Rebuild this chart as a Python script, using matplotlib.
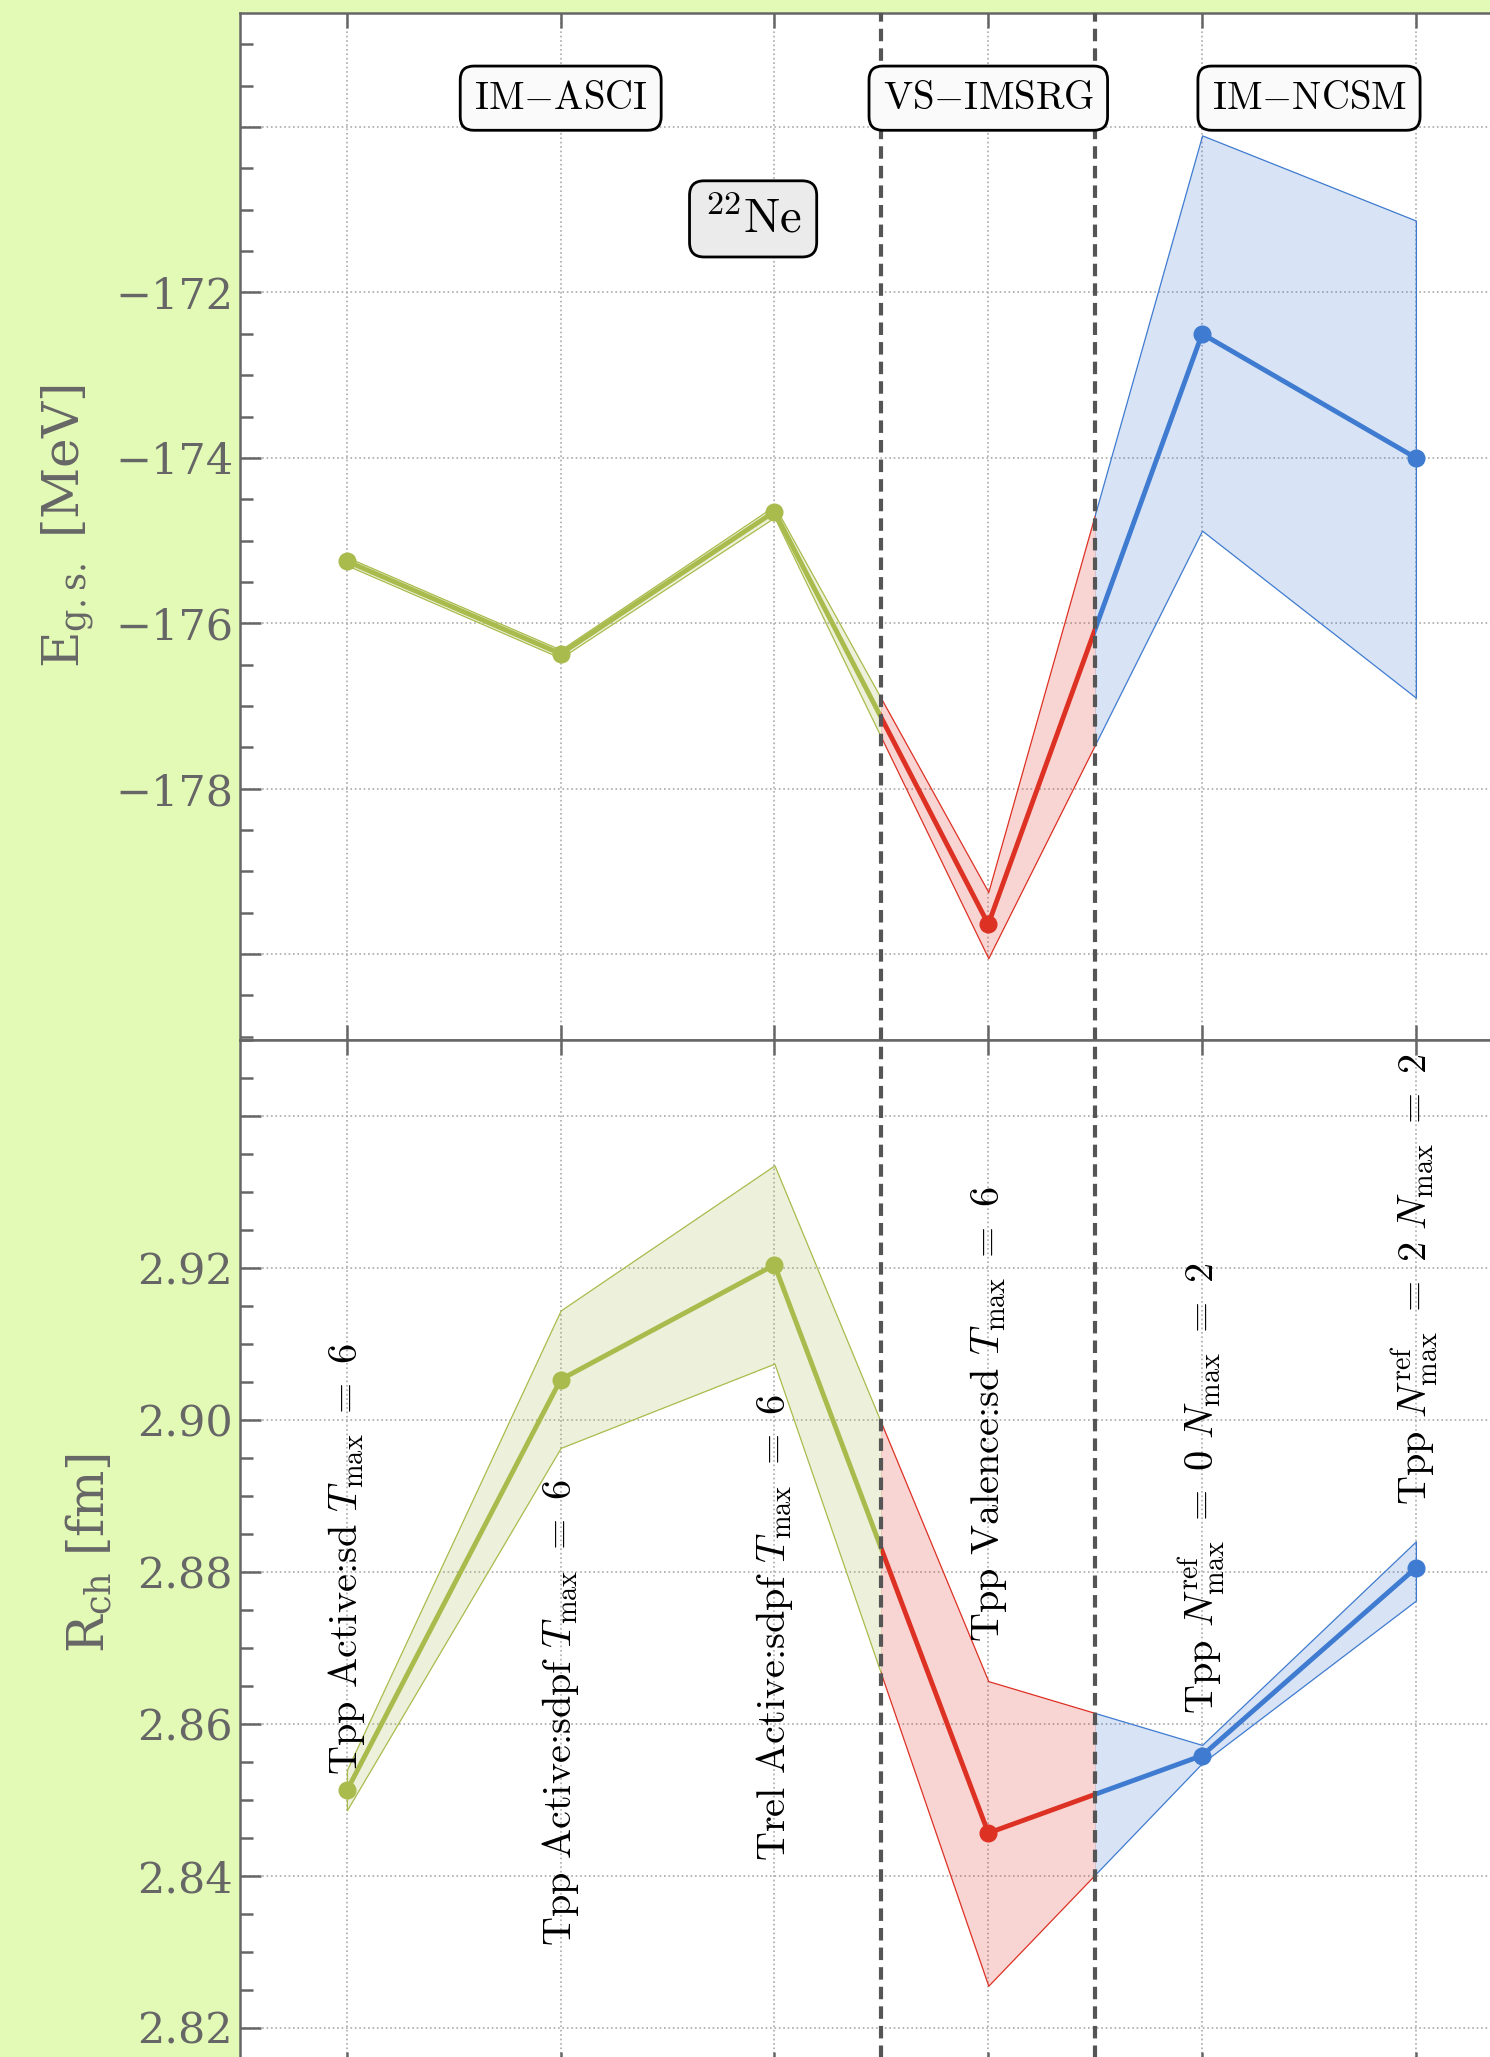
import matplotlib
matplotlib.use("Agg")
import matplotlib.pyplot as plt
from matplotlib.patches import Rectangle
from matplotlib.colors import to_rgba
import numpy as np

plt.rcParams['font.family'] = 'DejaVu Serif'
plt.rcParams['mathtext.fontset'] = 'cm'

# six calculations along the x axis
x_labels = [
    r"Tpp Active:sd $T_{\mathrm{max}}\ =\ 6$",
    r"Tpp Active:sdpf $T_{\mathrm{max}}\ =\ 6$",
    r"Trel Active:sdpf $T_{\mathrm{max}}\ =\ 6$",
    r"Tpp Valence:sd $T_{\mathrm{max}}\ =\ 6$",
    r"Tpp $N^{\mathrm{ref}}_{\mathrm{max}}\ =\ 0\ N_{\mathrm{max}}\ =\ 2$",
    r"Tpp $N^{\mathrm{ref}}_{\mathrm{max}}\ =\ 2\ N_{\mathrm{max}}\ =\ 2$",
]

# ground state energy [MeV]
E_center = [-175.25, -176.37, -174.65, -179.64, -172.50, -174.00]
E_lower = [-175.30, -176.42, -174.72, -180.05, -174.88, -176.90]
E_upper = [-175.20, -176.32, -174.58, -179.25, -170.10, -171.13]

# charge radius [fm]
R_center = [2.8512, 2.9053, 2.9204, 2.8456, 2.8558, 2.8805]
R_lower = [2.8486, 2.8963, 2.9074, 2.8255, 2.8548, 2.8762]
R_upper = [2.8539, 2.9144, 2.9335, 2.8656, 2.8572, 2.8840]

# methods: name, colour, x-range it owns, its points
method_names = [r"$\mathrm{IM{-}ASCI}$", r"$\mathrm{VS{-}IMSRG}$", r"$\mathrm{IM{-}NCSM}$"]
method_colors = ["#A9BB4C", "#DD3124", "#3F7BD0"]
method_ranges = [(-0.5, 2.5), (2.5, 3.5), (3.5, 5.5)]
method_points = [[0, 1, 2], [3], [4, 5]]
method_label_x = [1.0, 3.0, 4.5]

# where the rotated labels start / end on the radius panel
ann_y = [2.8533, 2.8922, 2.9034, 2.8708, 2.8613, 2.8888]
ann_ha = ['left', 'right', 'right', 'left', 'left', 'left']

x = np.arange(len(x_labels))

fig = plt.figure(figsize=(14.9, 20.57), dpi=100)
fig.patch.set_facecolor("#E3FAB6")

left, width, h = 240 / 1490, 1282.8 / 1490, 1027 / 2057
ax_e = fig.add_axes([left, 1 - 1040 / 2057, width, h])
ax_r = fig.add_axes([left, 1 - 2067 / 2057, width, h])

gray = "#666666"


def draw_series(ax, center, lower, upper):
    for col, (lo, hi), pts in zip(method_colors, method_ranges, method_points):
        clip = Rectangle((lo, -1e4), hi - lo, 2e4, transform=ax.transData)
        fb = ax.fill_between(x, lower, upper, facecolor=to_rgba(col, 0.2),
                             edgecolor=col, linewidth=0.9, zorder=2)
        fb.set_clip_path(clip)
        ln, = ax.plot(x, center, color=col, lw=3.5, zorder=3)
        ln.set_clip_path(clip)
        ax.plot(x[pts], np.array(center)[pts], 'o', color=col, ms=12, zorder=4)


def style_axis(ax):
    ax.set_xlim(-0.5, 5.5)
    ax.set_xticks(x)
    ax.set_xticklabels([])
    ax.tick_params(axis='x', which='major', direction='in', top=True, bottom=True,
                   length=11, width=1.8, color=gray)
    ax.tick_params(axis='y', which='major', direction='in', length=15, width=1.8,
                   color=gray, labelcolor=gray, labelsize=31, pad=5)
    ax.tick_params(axis='y', which='minor', direction='in', length=9.5, width=1.8,
                   color=gray)
    for s in ax.spines.values():
        s.set_color(gray)
        s.set_linewidth(1.8)
    ax.grid(True, which='major', linestyle=':', color='#AAAAAA', linewidth=1.2)
    ax.set_axisbelow(True)
    for xs in (2.5, 3.5):
        ax.axvline(xs, color='#555555', lw=3, linestyle=(0, (3, 1.7)), zorder=5)


# energy panel
draw_series(ax_e, E_center, E_lower, E_upper)
style_axis(ax_e)
ax_e.set_ylim(-181.04, -168.62)
e_major = np.arange(-180, -169, 2)
ax_e.set_yticks(e_major)
ax_e.set_yticklabels(["" if v in (-180, -170) else f"\u2212{abs(v)}" for v in e_major])
ax_e.set_yticks(np.arange(-181, -168.5, 0.5), minor=True)
ax_e.set_ylabel(r"E$_{\mathrm{g.s.}}$ [MeV]", fontsize=36, color=gray,
                math_fontfamily='dejavuserif')
ax_e.yaxis.set_label_coords(-0.112, 0.5)

for name, xm in zip(method_names, method_label_x):
    ax_e.text(xm, -169.65, name, fontsize=28, ha='center', va='center', zorder=6,
              bbox=dict(boxstyle='round,pad=0.35', facecolor='#FAFAFA',
                        edgecolor='black', linewidth=2))
ax_e.text(1.9, -171.11, r"$^{22}\mathrm{Ne}$", fontsize=35, ha='center', va='center',
          zorder=6, bbox=dict(boxstyle='round,pad=0.3', facecolor='#EBEBEB',
                              edgecolor='black', linewidth=2))

# charge radius panel
draw_series(ax_r, R_center, R_lower, R_upper)
style_axis(ax_r)
ax_r.set_ylim(2.8148, 2.9492)
r_major = np.arange(2.82, 2.945, 0.02)
ax_r.set_yticks(r_major)
ax_r.set_yticklabels(["" if v > 2.935 else f"{v:.2f}" for v in r_major])
ax_r.set_yticks(np.arange(2.815, 2.95, 0.005), minor=True)
ax_r.set_ylabel(r"R$_{\mathrm{ch}}$ [fm]", fontsize=36, color=gray,
                math_fontfamily='dejavuserif')
ax_r.yaxis.set_label_coords(-0.097, 0.5)

for xi, lab, yy, ha in zip(x, x_labels, ann_y, ann_ha):
    ax_r.text(xi, yy, lab, rotation=90, rotation_mode='anchor', ha=ha, va='center',
              fontsize=29, family='cmr10', zorder=6)

fig.savefig("out.png", dpi=100, facecolor=fig.get_facecolor())
